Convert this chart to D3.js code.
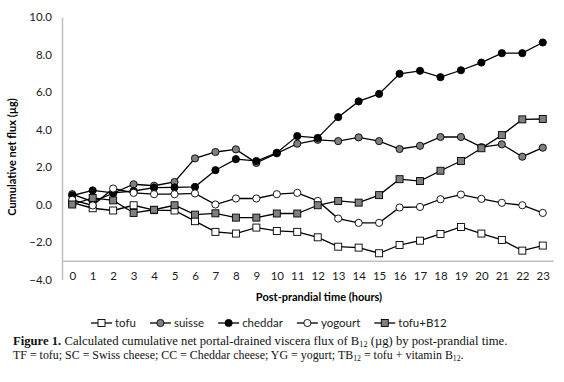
<!DOCTYPE html>
<html><head><meta charset="utf-8">
<script src="https://cdn.jsdelivr.net/npm/d3@7"></script>
<style>body{margin:0;background:#fff}svg{display:block}</style>
</head><body>
<svg id="c" width="564" height="382"></svg>
<script>
const hours = d3.range(0, 24);
const yTicks = [-4, -2, 0, 2, 4, 6, 8, 10];
const tofu     = [0.10,-0.20,-0.32,-0.04,-0.30,-0.32,-0.89,-1.46,-1.55,-1.23,-1.41,-1.46,-1.75,-2.25,-2.30,-2.60,-2.16,-1.93,-1.57,-1.20,-1.55,-1.89,-2.46,-2.19];
const suisse   = [0.55,0.15,0.60,1.08,1.00,1.20,2.46,2.80,2.94,2.22,2.73,3.24,3.45,3.38,3.58,3.38,2.96,3.13,3.60,3.60,3.06,3.21,2.55,3.03];
const cheddar  = [0.48,0.75,0.62,0.72,0.90,0.91,0.94,1.83,2.42,2.32,2.76,3.65,3.55,4.66,5.50,5.90,6.97,7.13,6.79,7.16,7.57,8.07,8.07,8.64];
const yogourt  = [0.25,-0.05,0.85,0.62,0.55,0.55,0.59,0.00,0.32,0.32,0.55,0.62,0.19,-0.75,-0.98,-0.98,-0.16,-0.13,0.28,0.53,0.30,0.09,-0.04,-0.45];
const tofuB12  = [0.00,0.35,0.22,-0.45,-0.28,-0.04,-0.54,-0.47,-0.70,-0.70,-0.48,-0.48,-0.04,0.19,0.10,0.50,1.35,1.25,1.80,2.32,3.00,3.70,4.54,4.56];
const seriesNames = ["tofu","suisse","cheddar","yogourt","tofu+B12"];
const seriesValues = [tofu, suisse, cheddar, yogourt, tofuB12];
const shapes = ["square","circle","circle","circle","square"];
const fills = ["#ffffff","#7f7f7f","#000000","#ffffff","#7f7f7f"];

const svg = d3.select("#c");
const font = "Lato, 'Open Sans', sans-serif";
const x = d3.scalePoint().domain(hours).range([62, 553]).padding(0.5);
const y = d3.scaleLinear().domain([-4, 10]).range([279.5, 17]);

// y axis
const ya = svg.append("g").attr("transform","translate(62,0)")
  .call(d3.axisLeft(y).tickValues(yTicks).tickSize(0).tickSizeOuter(0).tickPadding(10).tickFormat(d3.format(".1f")));
ya.select(".domain").attr("stroke","#bfbfbf").attr("stroke-width",1.5);
ya.selectAll("text").attr("font-family",font).attr("font-size",11.5).attr("fill","#1a1a1a");

// x axis at y=-3
const xa = svg.append("g").attr("transform",`translate(0,${y(-3)})`)
  .call(d3.axisBottom(x).tickSize(0).tickSizeOuter(0).tickPadding(11));
xa.select(".domain").attr("stroke","#bfbfbf").attr("stroke-width",1.5);
xa.selectAll("text").attr("font-family",font).attr("font-size",11.5).attr("fill","#1a1a1a");

svg.append("text").attr("x",319).attr("y",301).attr("text-anchor","middle")
  .attr("font-family",font).attr("font-weight","bold").attr("font-size",11).text("Post-prandial time (hours)");
svg.append("text").attr("transform","translate(16,157) rotate(-90)").attr("text-anchor","middle")
  .attr("font-family",font).attr("font-weight","bold").attr("font-size",11).text("Cumulative net flux (µg)");

const line = d3.line().x((d,i)=>x(hours[i])).y(d=>y(d));
function marker(g, shape, fill, cx, cy){
  if(shape==="circle") g.append("circle").attr("cx",cx).attr("cy",cy).attr("r",3.6).attr("fill",fill).attr("stroke","#000").attr("stroke-width",0.9);
  else g.append("rect").attr("x",cx-3.5).attr("y",cy-3.5).attr("width",7).attr("height",7).attr("fill",fill).attr("stroke","#000").attr("stroke-width",0.9);
}
const plot = svg.append("g");
seriesValues.forEach((vals, s) => {
  plot.append("path").attr("d", line(vals)).attr("fill","none").attr("stroke","#000").attr("stroke-width",1.3);
});
seriesValues.forEach((vals, s) => {
  const g = plot.append("g");
  vals.forEach((v,i)=>marker(g, shapes[s], fills[s], x(hours[i]), y(v)));
});

// legend
let lx = 91; const ly = 323;
seriesNames.forEach((n, s) => {
  const g = svg.append("g");
  g.append("line").attr("x1",lx).attr("x2",lx+21).attr("y1",ly).attr("y2",ly).attr("stroke","#000").attr("stroke-width",1.3);
  marker(g, shapes[s], fills[s], lx+10.5, ly);
  const t = g.append("text").attr("x",lx+24).attr("y",ly+4).attr("font-family",font).attr("font-size",11.5).attr("fill","#1a1a1a").text(n);
  lx += 24 + t.node().getComputedTextLength() + 14;
});

// caption
const serif = "'Liberation Serif', 'DejaVu Serif', serif";
function caption(yPos, parts, targetWidth){
  const t = svg.append("text").attr("x",13).attr("y",yPos).attr("font-family",serif).attr("font-size",12.5).attr("fill","#111");
  parts.forEach(p=>{
    const ts = t.append("tspan").text(p.t);
    if(p.b) ts.attr("font-weight","bold");
    if(p.sub) ts.attr("font-size","65%").attr("dy",2);
    if(p.up) ts.attr("dy",-2);
  });
  if(targetWidth){
    const w = t.node().getComputedTextLength();
    t.attr("font-size", 12.5*targetWidth/w);
  }
}
caption(345, [{t:"Figure 1.",b:true},{t:" Calculated cumulative net portal-drained viscera flux of B"},{t:"12",sub:true},{t:" (µg) by post-prandial time.",up:true}], 495);
caption(359, [{t:"TF = tofu; SC = Swiss cheese; CC = Cheddar cheese; YG = yogurt; TB"},{t:"12",sub:true},{t:" = tofu + vitamin B",up:true},{t:"12",sub:true},{t:".",up:true}], 451);
</script>
</body></html>
